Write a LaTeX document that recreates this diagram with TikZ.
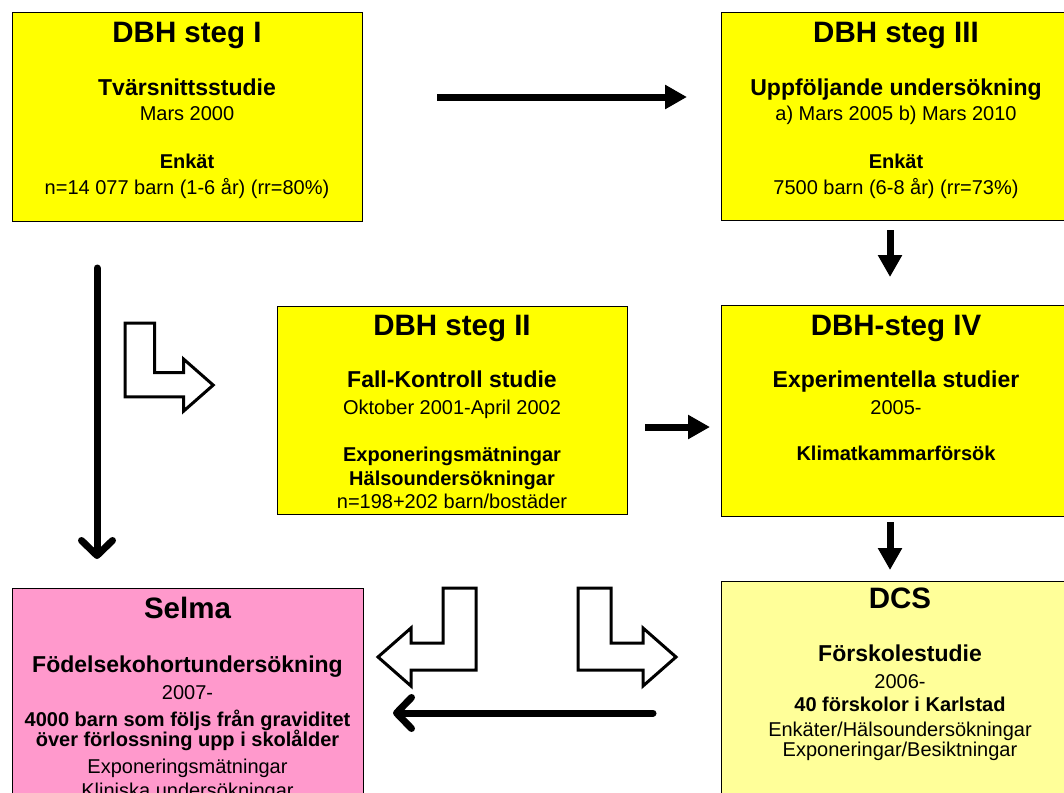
\documentclass[tikz,border=0pt]{standalone}
\usepackage{fontspec}
\setmainfont{Liberation Sans}
\usepackage{xcolor}
\usepackage{tikz}
\usetikzlibrary{arrows.meta}
\definecolor{GulDBH}{HTML}{FFFF00}
\definecolor{GulDCS}{HTML}{FFFF99}
\definecolor{RosaSelma}{HTML}{FF99CC}

\begin{document}
\begin{tikzpicture}[
  x = 1pt, y = -1pt,
  ruta/.style = {
      draw = black, line width = 1.3pt, fill = GulDBH,
      inner sep = 0pt, anchor = north west,
      minimum width = 350pt, minimum height = 209pt
  },
  rubrik/.style = {anchor = base, font = \fontsize{29.5}{32}\selectfont\bfseries},
  underrubrik/.style = {anchor = base, font = \fontsize{23}{26}\selectfont\bfseries},
  brodtext/.style = {anchor = base, font = \fontsize{20}{23}\selectfont},
  fettext/.style = {anchor = base, font = \fontsize{20}{23}\selectfont\bfseries},
  pil/.style = {line width = 7pt, -{Triangle[length = 22pt, width = 23pt]}},
  spetspil/.style = {line width = 7pt, line cap = round,
      -{Straight Barb[length = 15pt, width = 31pt, round]}},
  ihalpil/.style = {draw = black, fill = white, line width = 3pt},
  vinkelpil/.pic = {
      \draw[ihalpil] (0, 0) -- (33, 0) -- (33, 55) -- (65, 55) -- (65, 40)
      -- (98, 69) -- (65, 98) -- (65, 82) -- (0, 82) -- cycle;
  }
]
  \useasboundingbox (0, 0) rectangle (1064, 792);

  % rutorna
  \node[ruta] (steg1) at (12, 12) {};
  \node[ruta, minimum height = 208pt] (steg3) at (721, 12) {};
  \node[ruta, minimum height = 208pt] (steg2) at (277, 306) {};
  \node[ruta, minimum height = 211pt] (steg4) at (721, 305) {};
  \node[ruta, fill = RosaSelma, minimum width = 351pt, minimum height = 240pt] (selma) at (12, 588) {};
  \node[ruta, fill = GulDCS, minimum width = 358pt, minimum height = 240pt] (dcs) at (721, 581) {};

  \node[rubrik] (steg1-rubrik) at (187, 42.7) {DBH steg I};
  \node[underrubrik] (steg1-typ) at (187, 95) {Tvärsnittsstudie};
  \node[brodtext] (steg1-tid) at (187, 120.7) {Mars 2000};
  \node[fettext] (steg1-metod) at (187, 168) {Enkät};
  \node[brodtext] (steg1-antal) at (187, 194) {n=14 077 barn (1-6 år) (rr=80\%)};

  \node[rubrik] (steg3-rubrik) at (896, 42.7) {DBH steg III};
  \node[underrubrik] (steg3-typ) at (896, 95) {Uppföljande undersökning};
  \node[brodtext] (steg3-tid) at (896, 120.7) {a) Mars 2005 b) Mars 2010};
  \node[fettext] (steg3-metod) at (896, 168) {Enkät};
  \node[brodtext] (steg3-antal) at (896, 194) {7500 barn (6-8 år) (rr=73\%)};

  \node[rubrik] (steg2-rubrik) at (452, 335.7) {DBH steg II};
  \node[underrubrik] (steg2-typ) at (452, 387.7) {Fall-Kontroll studie};
  \node[brodtext] (steg2-tid) at (452, 414) {Oktober 2001-April 2002};
  \node[fettext] (steg2-metod) at (452, 461.7) {Exponeringsmätningar};
  \node[fettext] (steg2-metod2) at (452, 485.7) {Hälsoundersökningar};
  \node[brodtext] (steg2-antal) at (452, 508.3) {n=198+202 barn/bostäder};

  \node[rubrik] (steg4-rubrik) at (896, 335) {DBH-steg IV};
  \node[underrubrik] (steg4-typ) at (896, 387.7) {Experimentella studier};
  \node[brodtext] (steg4-tid) at (896, 414) {2005-};
  \node[fettext] (steg4-metod) at (896, 460.7) {Klimatkammarförsök};

  \node[rubrik] (selma-rubrik) at (187.5, 618.3) {Selma};
  \node[underrubrik] (selma-typ) at (187.5, 672.7) {Födelsekohortundersökning};
  \node[brodtext] (selma-tid) at (187.5, 699.3) {2007-};
  \node[fettext] (selma-antal) at (187.5, 726.7) {4000 barn som följs från graviditet};
  \node[fettext] (selma-antal2) at (187.5, 746.7) {över förlossning upp i skolålder};
  \node[brodtext] (selma-metod) at (187.5, 773) {Exponeringsmätningar};
  \node[brodtext] (selma-metod2) at (187.5, 797) {Kliniska undersökningar};

  \node[rubrik] (dcs-rubrik) at (900, 608) {DCS};
  \node[underrubrik] (dcs-typ) at (900, 661.7) {Förskolestudie};
  \node[brodtext] (dcs-tid) at (900, 688.3) {2006-};
  \node[fettext] (dcs-antal) at (900, 711) {40 förskolor i Karlstad};
  \node[brodtext] (dcs-metod) at (900, 736.7) {Enkäter/Hälsoundersökningar};
  \node[brodtext] (dcs-metod2) at (900, 756.7) {Exponeringar/Besiktningar};

  % pilar
  \coordinate (p13a) at (437, 97);   \coordinate (p13b) at (687, 97);
  \coordinate (p34a) at (890, 230);  \coordinate (p34b) at (890, 277);
  \coordinate (p24a) at (645, 427);  \coordinate (p24b) at (710, 427);
  \coordinate (p4da) at (890, 522);  \coordinate (p4db) at (890, 570);
  \coordinate (p1sa) at (97, 268);   \coordinate (p1sb) at (97, 559);
  \coordinate (pdsa) at (653, 713);  \coordinate (pdsb) at (393, 713);

  \draw[pil] (p13a) -- (p13b);
  \draw[pil] (p34a) -- (p34b);
  \draw[pil] (p24a) -- (p24b);
  \draw[pil] (p4da) -- (p4db);
  \draw[spetspil] (p1sa) -- (p1sb);
  \draw[spetspil] (pdsa) -- (pdsb);

  \pic[scale = .9] (vinkel1) at (125, 323) {vinkelpil};
  \pic[xscale = -1] (vinkel2) at (476, 588) {vinkelpil};
  \pic (vinkel3) at (578, 588) {vinkelpil};

\end{tikzpicture}
\end{document}
